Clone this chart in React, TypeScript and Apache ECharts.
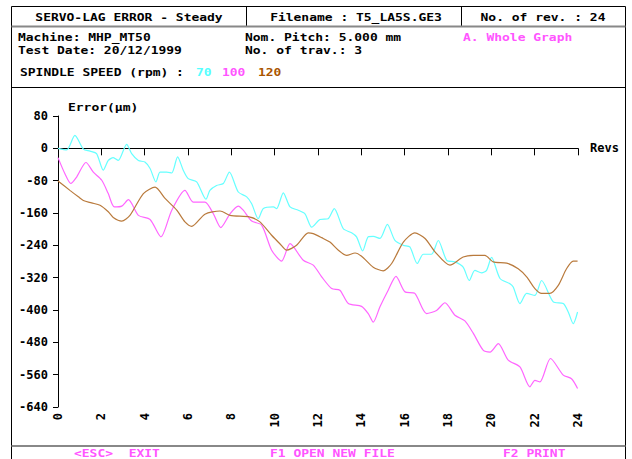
import React, { useEffect, useRef } from "react";
import * as echarts from "echarts";

// ---- data ----
const yTicks = [80, 0, -80, -160, -240, -320, -400, -480, -560, -640];
const xTicks = [0, 2, 4, 6, 8, 10, 12, 14, 16, 18, 20, 22, 24];

const revs70 = [0, 0.4, 0.78, 1.17, 1.48, 1.78, 2.09, 2.32, 2.55, 2.78, 3.17, 3.4, 3.71, 4.01, 4.25, 4.52, 4.71, 5.02, 5.25, 5.52, 5.78, 6.01, 6.4, 6.83, 7.01, 7.32, 7.63, 7.91, 8.32, 8.71, 8.94, 9.24, 9.48, 9.94, 10.09, 10.4, 10.71, 11.09, 11.4, 11.71, 12.09, 12.47, 12.75, 13.17, 13.55, 13.78, 14.06, 14.32, 14.55, 14.86, 15.2, 15.55, 15.94, 16.24, 16.58, 16.86, 17.24, 17.55, 17.94, 18.32, 18.7, 18.98, 19.24, 19.55, 19.78, 20.01, 20.4, 20.86, 21.01, 21.32, 21.63, 22.01, 22.32, 22.86, 23.32, 23.55, 23.78, 23.98];
const err70 = [0, -4, 32, -2, -7, -13, -54, -30, -23, -30, 10, -13, -30, -34, -50, -83, -59, -59, -61, -21, -54, -75, -83, -126, -104, -92, -87, -59, -108, -120, -137, -174, -149, -145, -149, -110, -145, -153, -162, -195, -176, -174, -149, -199, -209, -219, -254, -219, -218, -223, -188, -228, -240, -244, -285, -262, -262, -228, -277, -281, -294, -327, -302, -308, -302, -270, -322, -335, -343, -384, -359, -364, -327, -380, -384, -405, -434, -405];

const revs100 = [0, 0.32, 0.59, 0.86, 1.29, 1.63, 2.02, 2.32, 2.6, 2.94, 3.25, 3.71, 4.25, 4.75, 5.25, 5.86, 6.24, 6.78, 7.17, 7.51, 7.94, 8.32, 8.55, 8.94, 9.4, 9.86, 10.32, 10.71, 11.32, 11.78, 12.17, 12.63, 13.01, 13.4, 14.01, 14.32, 14.55, 14.86, 15.24, 15.6, 16.01, 16.47, 17.01, 17.47, 17.86, 18.32, 18.78, 19.17, 19.63, 19.94, 20.32, 20.78, 21.32, 21.78, 22.01, 22.24, 22.73, 23.32, 23.7, 23.98];
const err100 = [-23, -63, -87, -71, -35, -59, -79, -112, -145, -143, -127, -166, -176, -219, -153, -104, -133, -133, -162, -196, -162, -143, -153, -180, -190, -252, -279, -236, -277, -289, -318, -347, -351, -384, -391, -409, -430, -392, -351, -317, -355, -359, -409, -401, -382, -413, -427, -458, -500, -504, -483, -524, -541, -590, -574, -578, -520, -561, -570, -594];

const revs120 = [0, 0.55, 0.94, 1.17, 1.55, 1.94, 2.32, 2.55, 2.94, 3.32, 3.94, 4.48, 4.94, 5.48, 5.86, 6.17, 6.78, 7.48, 7.94, 8.86, 9.32, 9.86, 10.24, 10.55, 11.01, 11.55, 11.78, 12.17, 12.55, 12.94, 13.32, 13.71, 14.01, 14.55, 15.01, 15.4, 15.94, 16.47, 16.94, 17.4, 18.09, 18.7, 19.17, 19.7, 20.09, 20.71, 21.24, 21.63, 22.01, 22.32, 22.7, 23.09, 23.47, 23.78, 23.98];
const err120 = [-81, -104, -120, -129, -135, -141, -157, -171, -180, -166, -112, -96, -124, -153, -182, -193, -163, -155, -166, -170, -182, -215, -236, -252, -240, -209, -211, -221, -232, -252, -265, -259, -267, -294, -303, -285, -232, -209, -223, -256, -289, -269, -265, -265, -281, -284, -298, -318, -347, -359, -359, -339, -298, -279, -279];

const speeds = ["70", "100", "120"];
const speedColors = ["#55ffff", "#ff55ff", "#aa5500"];
const lineColors = ["#66ffff", "#ff66ff", "#b97a3c"];

const FONT = '"DejaVu Sans Mono", "Liberation Mono", monospace';

function pairs(xs: number[], ys: number[]) {
  return xs.map((x, i) => [x, ys[i]]);
}

function txt(text: string, x: number, y: number, fill = "#000", align = "left") {
  return {
    type: "text",
    x,
    y,
    scaleX: 1.18,
    scaleY: 1,
    silent: true,
    style: {
      text,
      fill,
      font: `bold 11px ${FONT}`,
      align,
      verticalAlign: "middle",
      textAlign: align,
      textVerticalAlign: "middle",
    },
  };
}

function ln(x1: number, y1: number, x2: number, y2: number, stroke = "#000", lineWidth = 1) {
  return { type: "line", silent: true, shape: { x1, y1, x2, y2 }, style: { stroke, lineWidth } };
}

export default function App() {
  const ref = useRef<HTMLDivElement>(null);
  useEffect(() => {
    if (!ref.current) return;
    const chart = echarts.init(ref.current, undefined, { renderer: "svg" });
    const labelStyle = { fontFamily: FONT, fontSize: 12, fontWeight: "bold", color: "#000" };
    const option: any = {
      animation: false,
      backgroundColor: "#fff",
      grid: { left: 58, right: 54, top: 116, bottom: 52, containLabel: false },
      xAxis: [
        {
          type: "value",
          min: 0,
          max: 24,
          interval: 2,
          position: "bottom",
          axisLine: { show: false, onZero: false },
          axisTick: { show: false },
          splitLine: { show: false },
          axisLabel: {
            ...labelStyle,
            rotate: 90,
            margin: 6,
            customValues: xTicks,
            formatter: (v: number) => String(v),
          },
        },
        {
          type: "value",
          min: 0,
          max: 24,
          interval: 2,
          position: "top",
          axisLine: { show: true, onZero: true, lineStyle: { color: "#000", width: 1 } },
          axisTick: { show: true, inside: true, length: 7, lineStyle: { color: "#000" } },
          axisLabel: { show: false },
          splitLine: { show: false },
          name: "Revs",
          nameLocation: "end",
          nameGap: 12,
          nameTextStyle: { ...labelStyle, verticalAlign: "middle" },
        },
      ],
      yAxis: {
        type: "value",
        min: -640,
        max: 80,
        interval: 80,
        axisLine: { show: true, onZero: false, lineStyle: { color: "#000", width: 1 } },
        axisTick: { show: true, length: 5, lineStyle: { color: "#000" } },
        splitLine: { show: false },
        axisLabel: { ...labelStyle, margin: 10, customValues: yTicks },
      },
      series: [
        { name: speeds[0], data: pairs(revs70, err70), color: lineColors[0] },
        { name: speeds[1], data: pairs(revs100, err100), color: lineColors[1] },
        { name: speeds[2], data: pairs(revs120, err120), color: lineColors[2] },
      ].map((s) => ({
        type: "line",
        name: s.name,
        xAxisIndex: 0,
        data: s.data,
        showSymbol: false,
        smooth: 0.25,
        lineStyle: { color: s.color, width: 1.2 },
        itemStyle: { color: s.color },
      })),
      graphic: [
        // frame
        ln(11.5, 6.5, 625.5, 6.5),
        ln(11.5, 6.5, 11.5, 459),
        ln(625.5, 6.5, 625.5, 459),
        ln(246.5, 6.5, 246.5, 26),
        ln(461.5, 6.5, 461.5, 26),
        ln(11.5, 26.5, 625.5, 26.5, "#888", 2),
        ln(11.5, 87.5, 625.5, 87.5),
        ln(11.5, 446, 625.5, 446, "#888", 2),
        // header texts
        txt("SERVO-LAG ERROR - Steady", 129, 17, "#000", "center"),
        txt("Filename : T5_LA5S.GE3", 356, 17, "#000", "center"),
        txt("No. of rev. : 24", 543, 17, "#000", "center"),
        txt("Machine: MHP_MT50", 18, 37),
        txt("Test Date: 20/12/1999", 18, 50),
        txt("Nom. Pitch: 5.000 mm", 245, 37),
        txt("No. of trav.: 3", 245, 50),
        txt("A. Whole Graph", 463, 37, "#ff55ff"),
        txt("SPINDLE SPEED (rpm) :", 20, 72),
        txt(speeds[0], 196, 72, speedColors[0]),
        txt(speeds[1], 222, 72, speedColors[1]),
        txt(speeds[2], 258, 72, speedColors[2]),
        txt("Error(\u03bcm)", 68, 107),
        // footer
        txt("<ESC>  EXIT", 74, 453, "#ff55ff"),
        txt("F1 OPEN NEW FILE", 270, 453, "#ff55ff"),
        txt("F2 PRINT", 503, 453, "#ff55ff"),
      ],
    };
    chart.setOption(option);
    return () => chart.dispose();
  }, []);
  return (
    <div
      ref={ref}
      style={{ position: "fixed", left: 0, top: 0, width: 632, height: 459, background: "#fff" }}
    />
  );
}
